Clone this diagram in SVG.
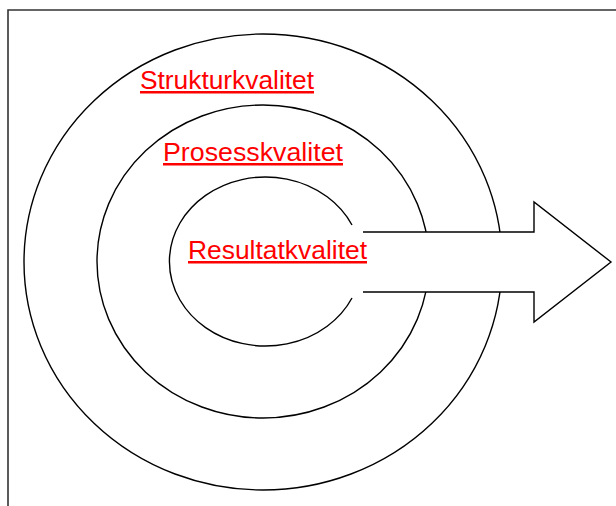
<svg xmlns="http://www.w3.org/2000/svg" width="616" height="506" viewBox="0 0 616 506">
  <style>
    .ring { fill: none; stroke: #000; stroke-width: 1.4; }
    .frame { fill: none; stroke: #333; stroke-width: 1.6; }
    .label { font-family: "Liberation Sans", Arial, sans-serif; font-size: 25px; fill: #ff0000; text-decoration: underline; }
  </style>
  <rect width="616" height="506" fill="#fff"/>
  <!-- page frame: top and left edges -->
  <path class="frame" d="M8,506 V10 H616"/>

  <g id="struktur">
    <ellipse class="ring" cx="263" cy="262" rx="239" ry="228"/>
    <text class="label" x="140" y="89" textLength="174" lengthAdjust="spacingAndGlyphs">Strukturkvalitet</text>
  </g>

  <g id="prosess">
    <ellipse class="ring" cx="263" cy="261.5" rx="166" ry="156.5"/>
    <text class="label" x="163" y="161" textLength="180" lengthAdjust="spacingAndGlyphs">Prosesskvalitet</text>
  </g>

  <g id="resultat">
    <path class="ring" d="M352,225 A96,84.5 0 1 0 352,298"/>
  </g>

  <g id="connectors">
    <!-- block arrow leaving the core, white fill hides the rings behind it -->
    <polygon points="350,232 534,232 534,202 611,262 534,322 534,292 350,292" fill="#fff" stroke="none"/>
    <polyline class="ring" points="363,232 534,232 534,202 611,262 534,322 534,292 363,292"/>
  </g>

  <text class="label" x="188" y="259" textLength="179" lengthAdjust="spacingAndGlyphs">Resultatkvalitet</text>
</svg>
